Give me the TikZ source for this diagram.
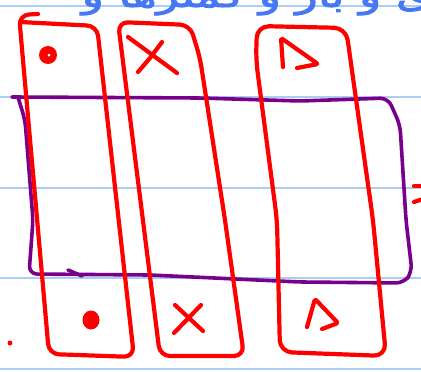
\documentclass[tikz,border=0pt]{standalone}
\usepackage{fontspec}
\newfontfamily\arabicfont[Script=Arabic,FakeBold=2.5]{DejaVu Sans}
\TeXXeTstate=1
\definecolor{penred}{RGB}{255,0,0}
\definecolor{penpurple}{RGB}{120,0,140}
\definecolor{penblue}{RGB}{70,120,245}
\definecolor{ruleblue}{RGB}{170,205,240}
\tikzset{
  redpen/.style={draw=penred, line width=4.2pt, line cap=round, line join=round},
  purplepen/.style={draw=penpurple, line width=3.6pt, line cap=round, line join=round},
  ruled/.style={draw=ruleblue, line width=1.3pt},
}
\begin{document}
\begin{tikzpicture}[x=1pt,y=-1pt]
\useasboundingbox (0,0) rectangle (421,372);
\fill[white] (0,0) rectangle (421,372);
\begin{scope}
\clip (0,0) rectangle (421,372);
% notebook lines
\foreach \yy in {6,97,188,278,369} \draw[ruled] (0,\yy) -- (421,\yy);
% handwriting at top (cut off, as in the reference)
\node[text=penblue, font=\arabicfont\fontsize{34}{34}\selectfont, anchor=base east, inner sep=0pt] (note) at (432,7) {\scalebox{1.35}[1]{\beginR ی و بار و کمترها و\endR}};
% purple rectangle
\draw[purplepen, rounded corners=8pt] (12,97) -- (200,98) -- (300,101) -- (388,98) -- (400,125) -- (406,220) -- (412,272) -- (404,283) -- (300,282) -- (150,275) -- (29,274) -- (33,220) -- (25,120) -- (18,97);
\draw[purplepen] (68,270) -- (82,276);
% red columns
\draw[redpen, rounded corners=10pt] (38,14) -- (19,15) -- (49,354) -- (134,357) -- (97,26) -- (20,22);
\draw[redpen, rounded corners=10pt] (118,22) -- (190,25) -- (200,58) -- (225,220) -- (244,356) -- (160,356) -- cycle;
\draw[redpen, rounded corners=12pt] (257,26) -- (346,28) -- (373,220) -- (386,356) -- (280,352) -- (277,220) -- (256,60) -- cycle;
% top symbols
\fill[penred] (48,55) circle (9);
\fill[white] (49,55) circle (1.5);
\draw[redpen] (128,37) -- (177,73);
\draw[redpen] (162,42) -- (150,58) -- (138,72);
\draw[redpen, rounded corners=2pt] (283,67) -- (281,38) -- (318,64) -- (297,68);
% bottom symbols
\fill[penred] (91,320) ellipse (8.5 and 9.5);
\draw[redpen] (175,305) -- (203,331);
\draw[redpen] (201,305) -- (174,333);
\draw[redpen, rounded corners=2pt] (307,327) -- (315,299) -- (338,323) -- (322,329);
% stray marks
\fill[penred] (10,343) circle (2.5);
\draw[redpen] (414,186) -- (423,186);
\draw[redpen] (414,202) -- (423,199);
\end{scope}
\end{tikzpicture}
\end{document}
